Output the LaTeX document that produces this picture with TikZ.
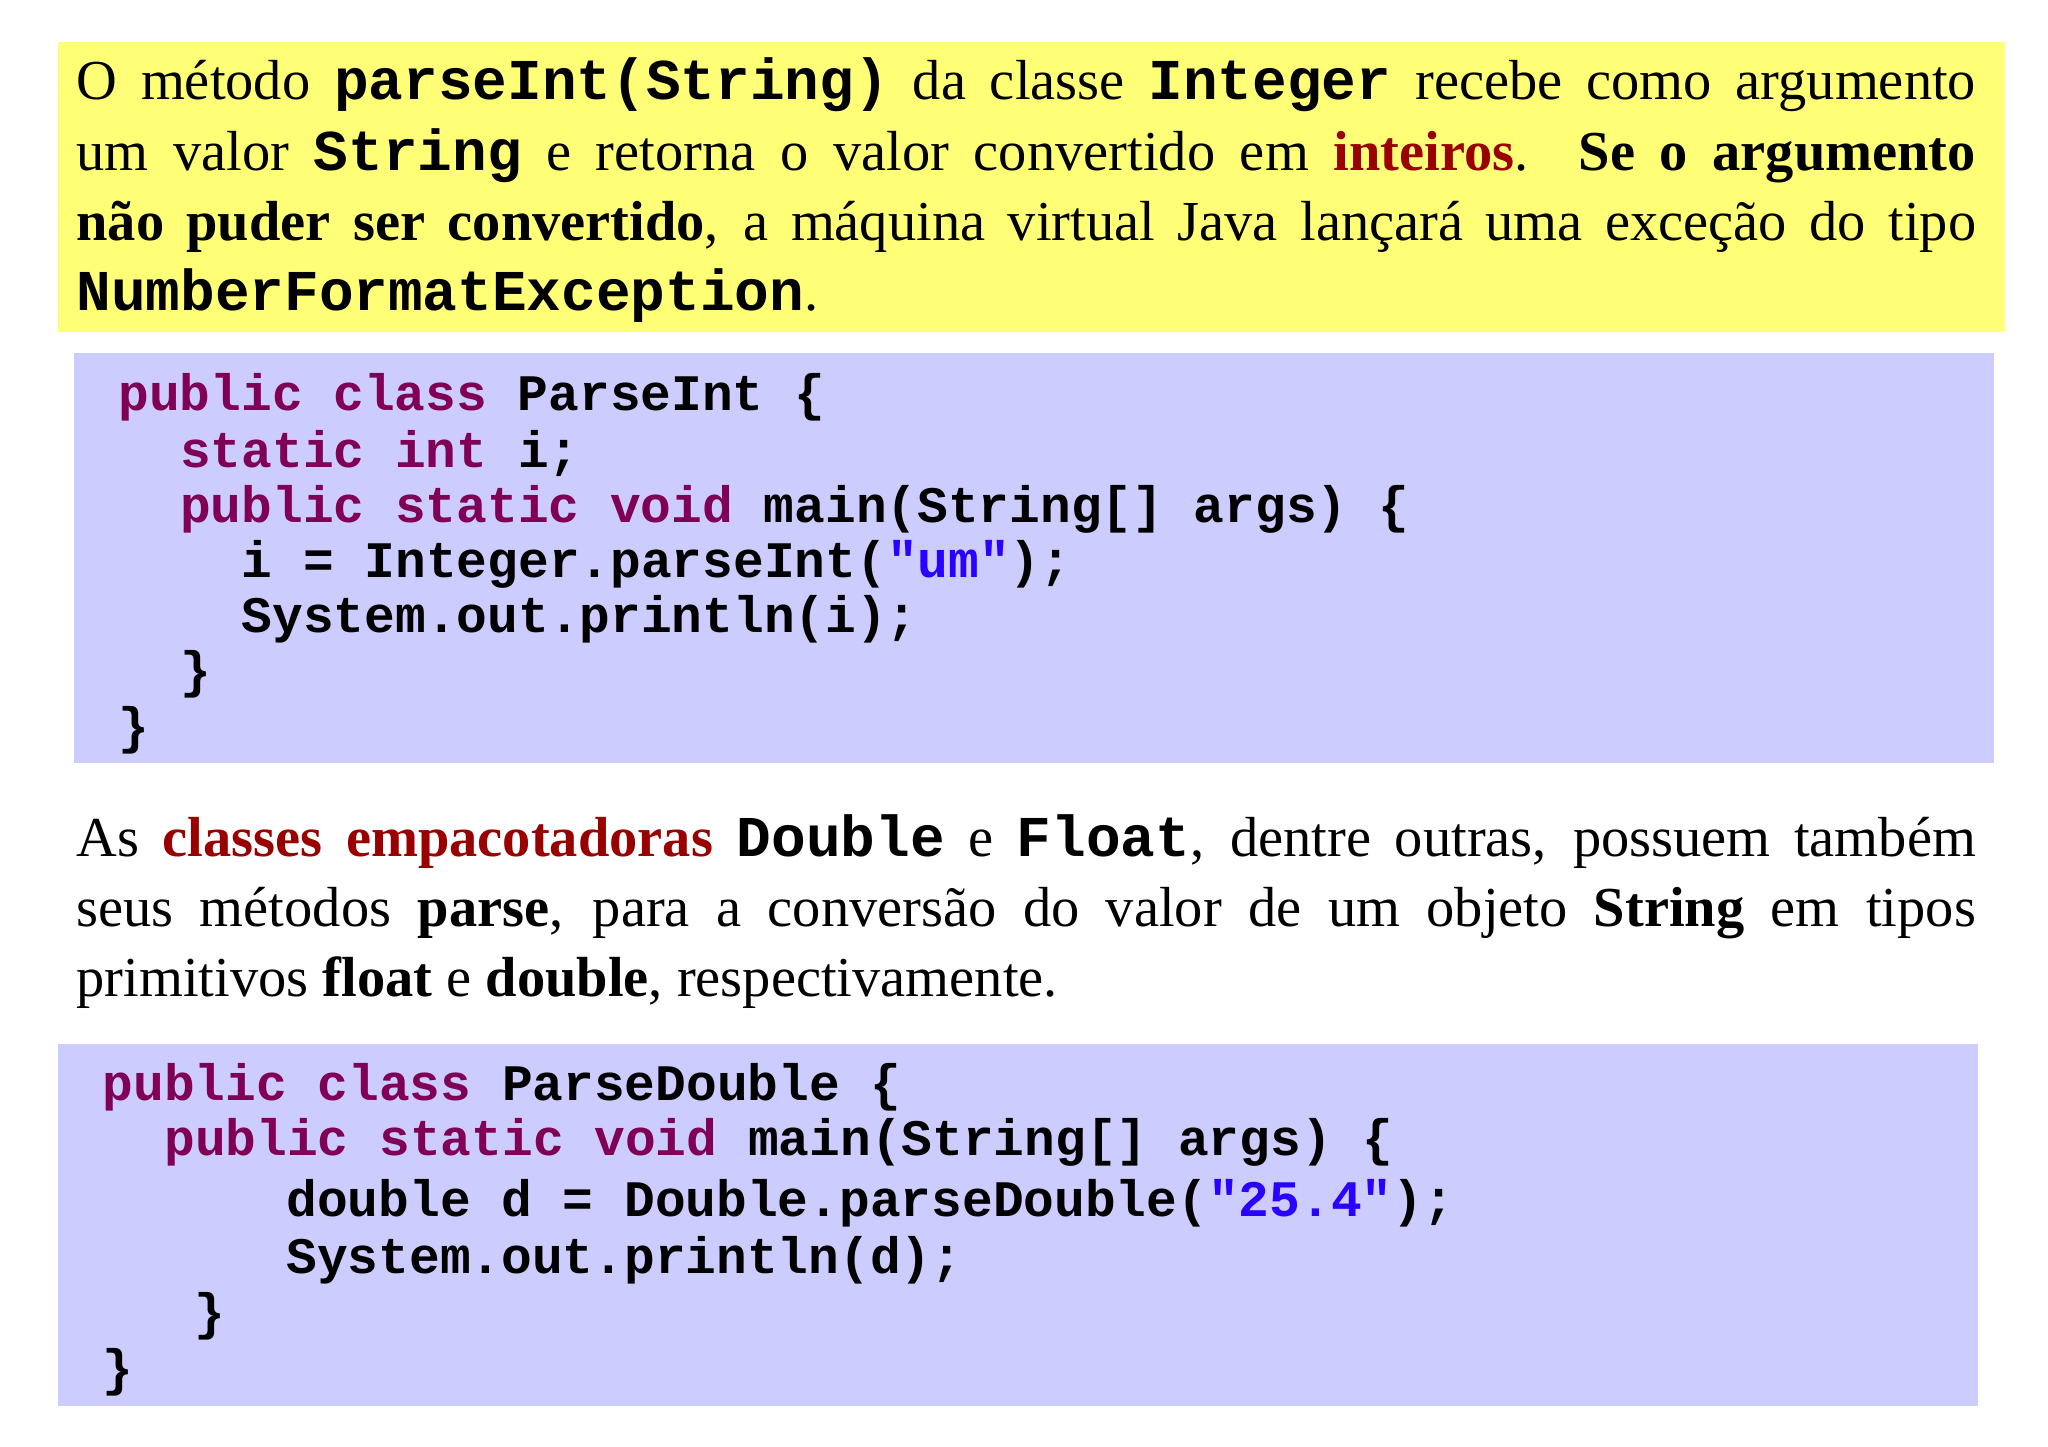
\documentclass[tikz,border=0pt]{standalone}
\usepackage{fontspec}
\setmainfont{Liberation Serif}
\setmonofont{Liberation Mono}
\definecolor{yel}{HTML}{FFFF77}
\definecolor{codebg}{HTML}{CCCCFF}
\definecolor{kw}{HTML}{7F0055}
\definecolor{str}{HTML}{2A00FF}
\definecolor{dred}{HTML}{990000}
\newcommand{\mw}[1]{{\fontsize{44}{53}\selectfont\ttfamily\bfseries #1}}
\newcommand{\kwd}[1]{\textcolor{kw}{#1}}
\tikzset{
  para/.style={anchor=north west, inner sep=0pt, text width=1447pt, align=justify, font=\fontsize{43}{53.5}\selectfont},
  codeline/.style={anchor=base west, inner sep=0pt, font=\fontsize{39}{42}\selectfont\ttfamily\bfseries}
}
\begin{document}
\begin{tikzpicture}[x=1pt,y=-1pt]
\useasboundingbox[fill=white] (0,0) rectangle (1560,1102);
\fill[yel] (44,32) rectangle (1527,253);
\fill[codebg] (56,269) rectangle (1519,581);
\fill[codebg] (44,795) rectangle (1507,1071);
\node[para] (p1) at (58,44) {O método \mw{parseInt(String)} da classe \mw{Integer} recebe como argumento\linebreak um valor \mw{String} e retorna o valor convertido em \textcolor{dred}{\textbf{inteiros}}. \textbf{Se o argumento}\linebreak \textbf{não puder ser convertido}, a máquina virtual Java lançará uma exceção do tipo\linebreak \mw{NumberFormatException}.};
\node[codeline] (a1) at (90,313) {\kwd{public class} ParseInt \{};
\node[codeline] (a2) at (137,356) {\kwd{static int} i;};
\node[codeline] (a3) at (137,398) {\kwd{public static void} main(String[] args) \{};
\node[codeline] (a4) at (184,440) {i = Integer.parseInt(\textcolor{str}{"um"});};
\node[codeline] (a5) at (184,482) {System.out.println(i);};
\node[codeline] (a6) at (137,524) {\}};
\node[codeline] (a7) at (90,566) {\}};
\node[para] (p2) at (58,620) {As \textcolor{dred}{\textbf{classes empacotadoras}} \mw{Double} e \mw{Float}, dentre outras, possuem também\linebreak seus métodos \textbf{parse}, para a conversão do valor de um objeto \textbf{String} em tipos\linebreak primitivos \textbf{float} e \textbf{double}, respectivamente.};
\node[codeline] (b1) at (78,838) {\kwd{public class} ParseDouble \{};
\node[codeline] (b2) at (125,880) {\kwd{public static void} main(String[] args) \{};
\node[codeline] (b3) at (218,927) {double d = Double.parseDouble(\textcolor{str}{"25.4"});};
\node[codeline] (b4) at (218,970) {System.out.println(d);};
\node[codeline] (b5) at (148,1013) {\}};
\node[codeline] (b6) at (78,1055) {\}};
\end{tikzpicture}
\end{document}
